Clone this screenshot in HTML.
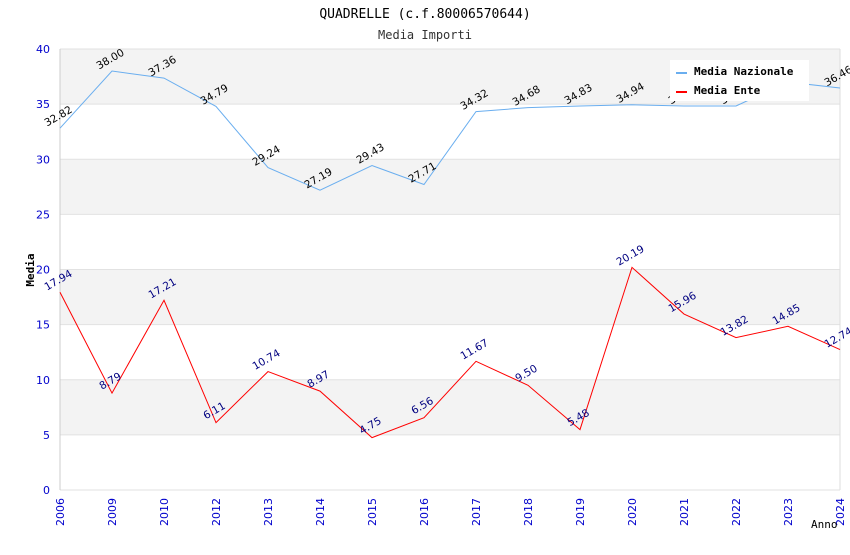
<!DOCTYPE html>
<html><head><meta charset="utf-8"><style>
body{margin:0;background:#fff;}
svg text{font-family:"DejaVu Sans","Liberation Sans",sans-serif;}
</style></head><body>
<svg id="c" width="850" height="550" xmlns="http://www.w3.org/2000/svg">
<text x="425" y="18" text-anchor="middle" font-size="13" style="font-family:'DejaVu Sans Mono','Liberation Mono',monospace">QUADRELLE (c.f.80006570644)</text>
<text x="425" y="39" text-anchor="middle" font-size="12" fill="#333" style="font-family:'DejaVu Sans Mono','Liberation Mono',monospace">Media Importi</text>
<g id="bands"></g><g id="axes"></g><g id="series"></g>
<g>
<rect x="670" y="60" width="139" height="41" fill="#fff"/>
<line x1="676" y1="73" x2="687" y2="73" stroke="#6aaeef" stroke-width="2"/>
<text x="694" y="75" font-size="11" font-weight="bold" style="font-family:'DejaVu Sans Mono','Liberation Mono',monospace">Media Nazionale</text>
<line x1="676" y1="92" x2="687" y2="92" stroke="#f00" stroke-width="2"/>
<text x="694" y="94" font-size="11" font-weight="bold" style="font-family:'DejaVu Sans Mono','Liberation Mono',monospace">Media Ente</text>
</g>
<text x="34" y="270" font-size="11" font-weight="bold" text-anchor="middle" transform="rotate(-90 34 270)" style="font-family:'DejaVu Sans Mono','Liberation Mono',monospace">Media</text>
<text x="811" y="528" font-size="11" style="font-family:'DejaVu Sans Mono','Liberation Mono',monospace">Anno</text>
</svg>
<script>
const categories=["2006","2009","2010","2012","2013","2014","2015","2016","2017","2018","2019","2020","2021","2022","2023","2024"];
const nazionale=[32.82,38.00,37.36,34.79,29.24,27.19,29.43,27.71,34.32,34.68,34.83,34.94,34.83,34.83,37.0,36.46];
const ente=[17.94,8.79,17.21,6.11,10.74,8.97,4.75,6.56,11.67,9.50,5.48,20.19,15.96,13.82,14.85,12.74];
const yTicks=[0,5,10,15,20,25,30,35,40];
const NS="http://www.w3.org/2000/svg";
const L=60,R=840,T=49,B=490,yMax=40;
const x=i=>L+i*(R-L)/(categories.length-1);
const y=v=>B-v*(B-T)/yMax;
function mk(tag,attrs,parent,txt){const e=document.createElementNS(NS,tag);for(const k in attrs)e.setAttribute(k,attrs[k]);if(txt!==undefined)e.textContent=txt;document.getElementById(parent).appendChild(e);return e;}
for(let i=0;i<yTicks.length-1;i++){
  const a=yTicks[i],b=yTicks[i+1];
  const r=mk('rect',{x:L,y:y(b),width:R-L,height:y(a)-y(b),fill:(i%2===1)?'#f3f3f3':'#fff'},'bands');
  
  
}
yTicks.forEach(v=>{
  const g=mk('line',{x1:L,x2:R,y1:y(v),y2:y(v),stroke:'#e2e2e2'},'axes');
  
  
  const t=mk('text',{x:L-10,y:y(v)+4,'text-anchor':'end','font-size':11,fill:'#0000cc'},'axes',String(v));
  
  
});
const ax=mk('line',{x1:L,x2:L,y1:T,y2:B,stroke:'#ccc'},'axes');


const ax2=mk('line',{x1:R,x2:R,y1:T,y2:B,stroke:'#ddd'},'axes');


categories.forEach((c,i)=>{
  const t=mk('text',{x:x(i)+4,y:B+8,'text-anchor':'end','font-size':11,fill:'#0000cc',transform:`rotate(-90 ${x(i)+4} ${B+8})`},'axes',c);
  
  
});
function series(data,color,labColor,name){
  const p=mk('polyline',{points:data.map((v,i)=>x(i)+','+y(v)).join(' '),fill:'none',stroke:color,'stroke-width':1},'series');
  
  
  data.forEach((v,i)=>{
    const tx=x(i),ty=y(v)-9;
    const t=mk('text',{x:tx,y:ty,'text-anchor':'middle','font-size':10.5,fill:labColor,transform:`rotate(-30 ${tx} ${ty})`},'series',v.toFixed(2));
    
    
  });
}
series(nazionale,'#6aaeef','#000','nazionale');
series(ente,'#f00','#000080','ente');
</script>
</body></html>
